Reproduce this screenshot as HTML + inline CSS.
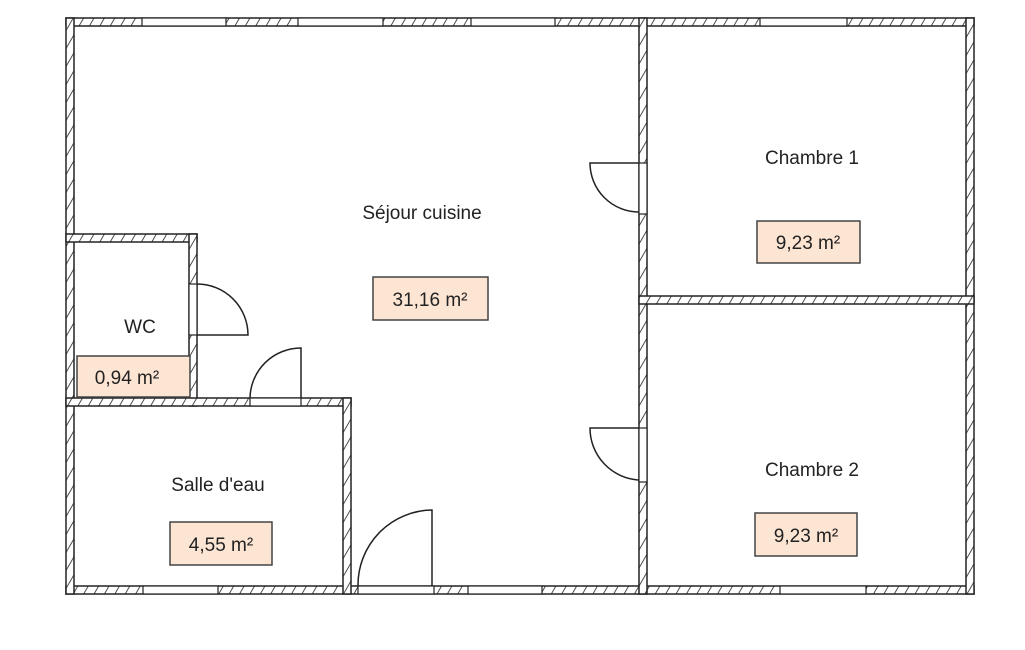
<!DOCTYPE html>
<html><head><meta charset="utf-8"><style>
html,body{margin:0;padding:0;background:#fff;}
svg{display:block;}
text{font-family:"Liberation Sans",sans-serif;font-size:19px;fill:#222;}
</style></head><body>
<svg width="1025" height="650" viewBox="0 0 1025 650" xmlns="http://www.w3.org/2000/svg">
<defs>
<pattern id="h" patternUnits="userSpaceOnUse" width="9" height="9" patternTransform="rotate(30)">
<rect width="9" height="9" fill="#fff"/>
<line x1="0" y1="0" x2="0" y2="9" stroke="#222" stroke-width="1.6"/>
</pattern>
</defs>
<g stroke="#222" stroke-width="1.5" fill="url(#h)">
<rect x="66" y="18" width="908" height="8"/>
<rect x="66" y="586" width="908" height="8"/>
<rect x="66" y="18" width="8" height="576"/>
<rect x="966" y="18" width="8" height="576"/>
<rect x="639" y="18" width="8" height="576"/>
<rect x="639" y="296" width="335" height="8"/>
<rect x="66" y="234" width="131" height="8"/>
<rect x="189" y="234" width="8" height="172"/>
<rect x="66" y="398" width="285" height="8"/>
<rect x="343" y="398" width="8" height="196"/>
</g>
<g stroke="#222" stroke-width="1.2" fill="#fff">
<rect x="142" y="18" width="84" height="8"/>
<rect x="298" y="18" width="85" height="8"/>
<rect x="471" y="18" width="84" height="8"/>
<rect x="760" y="18" width="87" height="8"/>
<rect x="143" y="586" width="75" height="8"/>
<rect x="358" y="586" width="76" height="8"/>
<rect x="468" y="586" width="74" height="8"/>
<rect x="780" y="586" width="86" height="8"/>
<rect x="639" y="163" width="8" height="51"/>
<rect x="639" y="428" width="8" height="54"/>
<rect x="189" y="284" width="8" height="51"/>
<rect x="250" y="398" width="51" height="8"/>
</g>
<g stroke="#222" stroke-width="1.5" fill="none">
<path d="M639 163 L590 163 A49 49 0 0 0 639 212"/>
<path d="M639 428 L590 428 A52 52 0 0 0 639 480"/>
<path d="M197 335 L248 335 A51 51 0 0 0 197 284"/>
<path d="M301 398 L301 348 A51 51 0 0 0 250 398"/>
<path d="M432 586 L432 510 A75 75 0 0 0 358 586"/>
</g>
<g fill="#fde5d4" stroke="#444" stroke-width="1.5">
<rect x="373" y="277" width="115" height="43"/>
<rect x="77" y="356" width="113" height="41"/>
<rect x="170" y="522" width="102" height="43"/>
<rect x="757" y="221" width="103" height="42"/>
<rect x="755" y="513" width="102" height="43"/>
</g>
<text x="422" y="219" text-anchor="middle">Séjour cuisine</text>
<text x="430" y="306" text-anchor="middle">31,16 m²</text>
<text x="140" y="333" text-anchor="middle">WC</text>
<text x="127" y="384" text-anchor="middle">0,94 m²</text>
<text x="218" y="491" text-anchor="middle">Salle d'eau</text>
<text x="221" y="551" text-anchor="middle">4,55 m²</text>
<text x="812" y="164" text-anchor="middle">Chambre 1</text>
<text x="808" y="249" text-anchor="middle">9,23 m²</text>
<text x="812" y="476" text-anchor="middle">Chambre 2</text>
<text x="806" y="542" text-anchor="middle">9,23 m²</text>
</svg>
</body></html>
